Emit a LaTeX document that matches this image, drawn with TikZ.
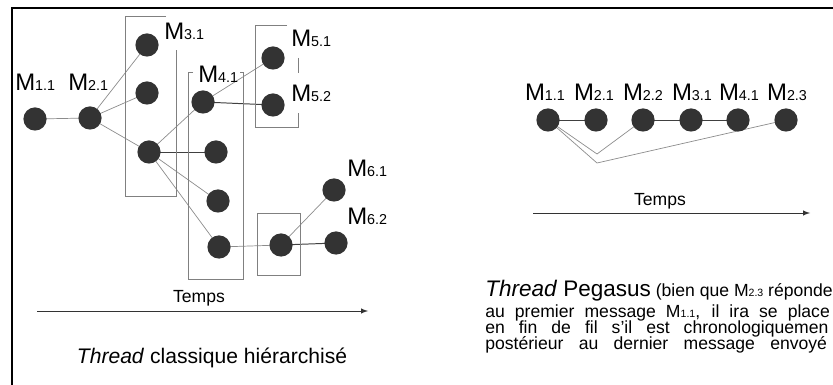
\documentclass[tikz,border=0pt]{standalone}
\usepackage{fontspec}
\setmainfont{Liberation Sans}
\usepackage{graphicx}
\usepackage{tikz}
\usetikzlibrary{positioning}
\pgfdeclarelayer{background}
\pgfdeclarelayer{foreground}
\pgfsetlayers{background,main,foreground}
\newcommand{\msgid}[1]{M\scalebox{0.6}{#1}}
\newcommand{\tightlines}{\setlength{\lineskiplimit}{-20pt}\setlength{\lineskip}{0pt}}

\begin{document}
\begin{tikzpicture}[x=0.025cm, y=-0.025cm,
						roundnode/.style={circle, fill=black!80, minimum size=16.5pt, inner sep=0pt},
						msglabel/.style={font=\fontsize{17}{19}\selectfont, inner sep=0pt},
						timelabel/.style={font=\fontsize{12.5}{14}\selectfont, inner sep=0pt},
						captext/.style={font=\fontsize{12.5}{11.6}\selectfont\tightlines, inner sep=0pt, align=left},
						thinline/.style={draw=black!45, line width=0.5pt},
						darkline/.style={draw=black!75, line width=0.7pt},
						boxline/.style={draw=black!50, line width=0.6pt},
						]
						\useasboundingbox (0,0) rectangle (833,385);
						%Frame
						\draw[line width=1.5pt] (12,385) -- (12,8) -- (833,8);

						%Nodes (classique)
						\node[roundnode]      (a11) 	at 	(35,119)          {};
						\node[roundnode]      (a21) 	at 	(90,118)          {};
						\node[roundnode]      (a31) 	at 	(147,45)          {};
						\node[roundnode]      (a32) 	at 	(147,93)          {};
						\node[roundnode]      (a33) 	at 	(149,152)         {};
						\node[roundnode]      (a41) 	at 	(203,102)         {};
						\node[roundnode]      (a42) 	at 	(216,152)         {};
						\node[roundnode]      (a43) 	at 	(218,201)         {};
						\node[roundnode]      (a44) 	at 	(219,247)         {};
						\node[roundnode]      (a51) 	at 	(273,58)          {};
						\node[roundnode]      (a52) 	at 	(273,105)         {};
						\node[roundnode]      (a60) 	at 	(281,245)         {};
						\node[roundnode]      (a61) 	at 	(334,190)         {};
						\node[roundnode]      (a62) 	at 	(336,243)         {};

						\node[msglabel, anchor=base west]  (la11) 	at 	(15,91)    {\msgid{1.1}};
						\node[msglabel, anchor=base west]  (la21) 	at 	(68,91)    {\msgid{2.1}};
						\node[msglabel, anchor=base west]  (la31) 	at 	(164,40)   {\msgid{3.1}};
						\node[msglabel, anchor=base west]  (la41) 	at 	(198,83)   {\msgid{4.1}};
						\node[msglabel, anchor=base west]  (la51) 	at 	(291,47)   {\msgid{5.1}};
						\node[msglabel, anchor=base west]  (la52) 	at 	(291,102)  {\msgid{5.2}};
						\node[msglabel, anchor=base west]  (la61) 	at 	(347,177)  {\msgid{6.1}};
						\node[msglabel, anchor=base west]  (la62) 	at 	(347,225)  {\msgid{6.2}};

						%Boxes
						\draw[boxline] (166,16) -- (125,16) -- (125,196) -- (176,196) -- (176,50);
						\draw[boxline] (193,72) -- (188,72) -- (188,279) -- (243,279) -- (243,72) -- (240,72);
						\draw[boxline] (287,25) -- (255,25) -- (255,127) -- (298,127) -- (298,113);
						\draw[boxline] (298,58) -- (298,73);
						\draw[boxline] (257,213) rectangle (300,275);

						%Time axis
						\coordinate (ta0) at (37,311);
						\coordinate (ta1) at (368,311);
						\draw[line width=0.7pt, black!80, -latex] (ta0) -- (ta1);
						\node[timelabel, anchor=base] (tla) 	at 	(199,303)  {Temps};
						\node[font=\fontsize{15}{17}\selectfont, inner sep=0pt, anchor=base] (capa) 	at 	(212,363)  {\textit{Thread} classique hiérarchisé};

						%Nodes (Pegasus)
						\node[roundnode]      (b11) 	at 	(548,120)         {};
						\node[roundnode]      (b21) 	at 	(596,120)         {};
						\node[roundnode]      (b22) 	at 	(643,120)         {};
						\node[roundnode]      (b31) 	at 	(691,120)         {};
						\node[roundnode]      (b41) 	at 	(738,120)         {};
						\node[roundnode]      (b23) 	at 	(786,120)         {};
						\coordinate (v1) at (597,154);
						\coordinate (v2) at (597,163);

						\node[msglabel, anchor=base]  (lb11) 	at 	(545,101)  {\msgid{1.1}};
						\node[msglabel, anchor=base]  (lb21) 	at 	(594,101)  {\msgid{2.1}};
						\node[msglabel, anchor=base]  (lb22) 	at 	(643,101)  {\msgid{2.2}};
						\node[msglabel, anchor=base]  (lb31) 	at 	(692,101)  {\msgid{3.1}};
						\node[msglabel, anchor=base]  (lb41) 	at 	(739,101)  {\msgid{4.1}};
						\node[msglabel, anchor=base]  (lb23) 	at 	(787,101)  {\msgid{2.3}};

						\coordinate (tb0) at (533,213);
						\coordinate (tb1) at (810,213);
						\draw[line width=0.7pt, black!80, -latex] (tb0) -- (tb1);
						\node[timelabel, anchor=base] (tlb) 	at 	(660,206)  {Temps};

						\node[captext, anchor=north west] (capb) 	at 	(485,280)  {{\fontsize{16}{18}\selectfont\textit{Thread} Pegasus} (bien que \msgid{2.3} réponde\\[3pt]
							\makebox[245pt][s]{au premier message \msgid{1.1}, il ira se place}\\
							\makebox[244pt][s]{en fin de fil s’il est chronologiquemen}\\
							\makebox[243pt][s]{postérieur au dernier message envoyé}};

						\begin{pgfonlayer}{background}
						%Lines
						\draw[thinline] (a11.center) -- (a21.center);
						\draw[thinline] (a21.center) -- (a31.center);
						\draw[thinline] (a21.center) -- (a32.center);
						\draw[thinline] (a21.center) -- (a33.center);
						\draw[thinline] (a33.center) -- (a41.center);
						\draw[darkline] (a33.center) -- (a42.center);
						\draw[thinline] (a33.center) -- (a43.center);
						\draw[thinline] (a33.center) -- (a44.center);
						\draw[thinline] (a41.center) -- (a51.center);
						\draw[darkline] (a41.center) -- (a52.center);
						\draw[thinline] (a44.center) -- (a60.center);
						\draw[thinline] (a60.center) -- (a61.center);
						\draw[darkline] (a60.center) -- (a62.center);

						\draw[darkline] (b11.center) -- (b21.center);
						\draw[darkline] (b22.center) -- (b31.center);
						\draw[darkline] (b31.center) -- (b41.center);
						\draw[thinline] (b11.center) -- (v1) -- (b22.center);
						\draw[thinline] (b11.center) -- (v2) -- (b23.center);
						\end{pgfonlayer}
					\end{tikzpicture}
\end{document}
